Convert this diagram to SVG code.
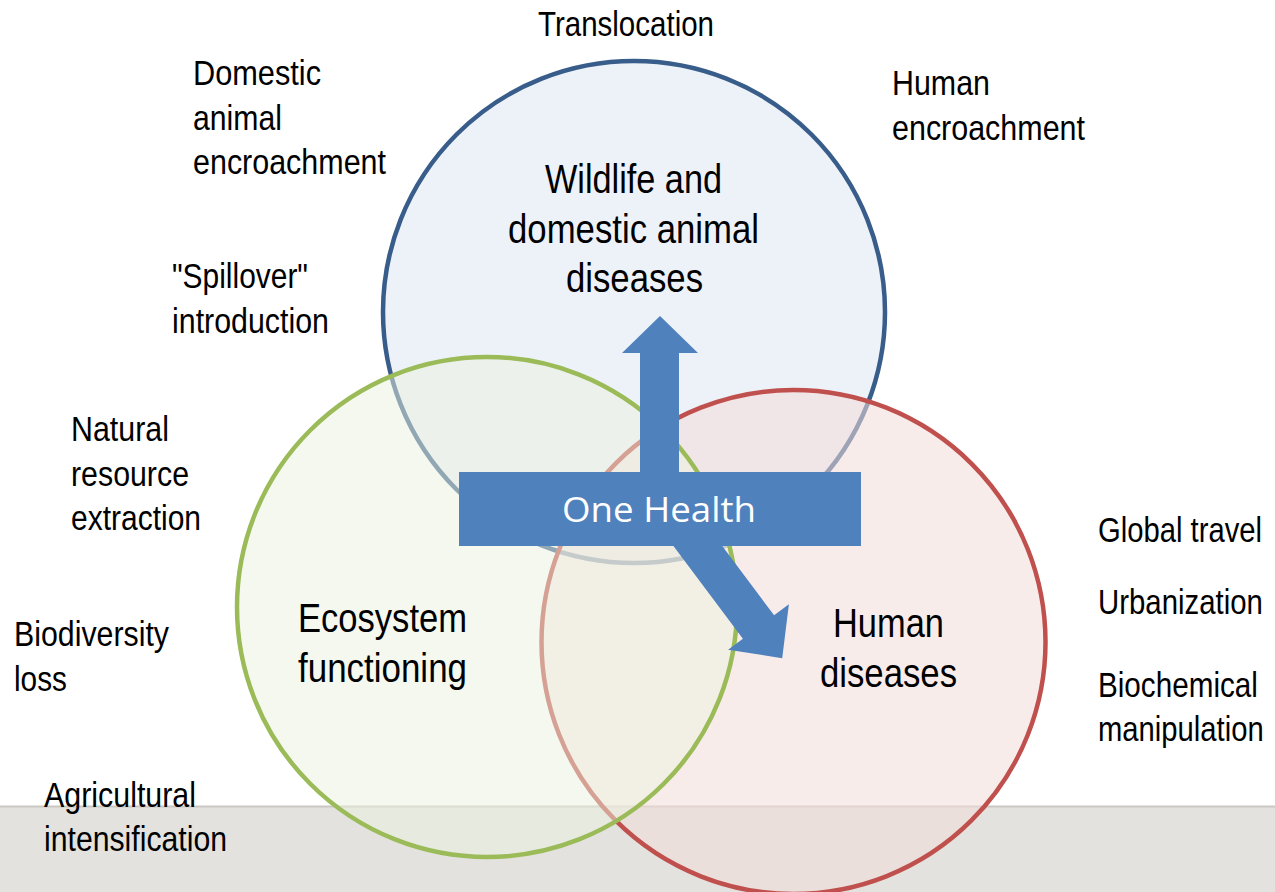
<svg xmlns="http://www.w3.org/2000/svg" width="1275" height="892" viewBox="0 0 1275 892">
<style>
  .lbl { font-family: "Liberation Sans Narrow", "Liberation Sans", Arial, sans-serif; font-size: 35px; fill: #000; }
  .node { font-family: "Liberation Sans Narrow", "Liberation Sans", Arial, sans-serif; font-size: 40px; fill: #000; text-anchor: middle; }
  .oh { font-family: "Open Sans", "Noto Sans", sans-serif; font-size: 35px; fill: #fff; text-anchor: middle; }
  .arrow { fill: #4f81bd; }
</style>
<rect x="0" y="0" width="1275" height="892" fill="#ffffff"/>
<g id="ground">
  <rect x="0" y="806" width="1275" height="86" fill="#e3e2de"/>
  <line x1="0" y1="806.5" x2="1275" y2="806.5" stroke="#cbc8c3" stroke-width="2"/>
</g>
<g id="node-wildlife">
  <circle cx="634" cy="312" r="251" fill="#dbe5f1" fill-opacity="0.5" stroke="#385d8a" stroke-width="4.5"/>
</g>
<g id="node-human">
  <circle cx="793.5" cy="642" r="252" fill="#f2dcdb" fill-opacity="0.55" stroke="#c0504d" stroke-width="4.5"/>
</g>
<g id="node-ecosystem">
  <circle cx="487" cy="607" r="250" fill="#ebf1de" fill-opacity="0.5" stroke="#9bbb59" stroke-width="4.5"/>
</g>
<g id="node-labels">
  <text class="node" x="633.5" y="193" textLength="177" lengthAdjust="spacingAndGlyphs">Wildlife and</text>
  <text class="node" x="633.5" y="243" textLength="251" lengthAdjust="spacingAndGlyphs">domestic animal</text>
  <text class="node" x="634.5" y="292" textLength="137" lengthAdjust="spacingAndGlyphs">diseases</text>
  <text class="node" x="382.5" y="632" textLength="169" lengthAdjust="spacingAndGlyphs">Ecosystem</text>
  <text class="node" x="382.5" y="682" textLength="169" lengthAdjust="spacingAndGlyphs">functioning</text>
  <text class="node" x="888.5" y="637" textLength="111" lengthAdjust="spacingAndGlyphs">Human</text>
  <text class="node" x="888.5" y="687" textLength="137" lengthAdjust="spacingAndGlyphs">diseases</text>
</g>
<g id="connectors">
  <polygon class="arrow" points="640,500 640,353 622,353 660,316 698,353 679,353 679,500"/>
  <polygon class="arrow" points="686.5,498.3 774.1,615.3 788.9,604.2 782.2,658.2 728.1,649.8 742.9,638.7 655.3,521.7"/>
</g>
<g id="node-onehealth">
  <rect x="459" y="472" width="402" height="74" fill="#4f81bd"/>
  <text class="oh" x="659" y="522" textLength="194" lengthAdjust="spacingAndGlyphs">One Health</text>
</g>
<g id="drivers">
  <text class="lbl" x="538" y="36" textLength="176" lengthAdjust="spacingAndGlyphs">Translocation</text>
  <text class="lbl" x="193" y="85" textLength="128" lengthAdjust="spacingAndGlyphs">Domestic</text>
  <text class="lbl" x="193" y="130" textLength="89" lengthAdjust="spacingAndGlyphs">animal</text>
  <text class="lbl" x="193" y="174" textLength="193" lengthAdjust="spacingAndGlyphs">encroachment</text>
  <text class="lbl" x="892" y="95" textLength="98" lengthAdjust="spacingAndGlyphs">Human</text>
  <text class="lbl" x="892" y="140" textLength="193" lengthAdjust="spacingAndGlyphs">encroachment</text>
  <text class="lbl" x="172" y="288" textLength="136" lengthAdjust="spacingAndGlyphs">"Spillover"</text>
  <text class="lbl" x="172" y="333" textLength="157" lengthAdjust="spacingAndGlyphs">introduction</text>
  <text class="lbl" x="71" y="441" textLength="98" lengthAdjust="spacingAndGlyphs">Natural</text>
  <text class="lbl" x="71" y="486" textLength="118" lengthAdjust="spacingAndGlyphs">resource</text>
  <text class="lbl" x="71" y="530" textLength="130" lengthAdjust="spacingAndGlyphs">extraction</text>
  <text class="lbl" x="14" y="646" textLength="155" lengthAdjust="spacingAndGlyphs">Biodiversity</text>
  <text class="lbl" x="14" y="691" textLength="53" lengthAdjust="spacingAndGlyphs">loss</text>
  <text class="lbl" x="44" y="807" textLength="152" lengthAdjust="spacingAndGlyphs">Agricultural</text>
  <text class="lbl" x="44" y="851" textLength="183" lengthAdjust="spacingAndGlyphs">intensification</text>
  <g transform="translate(1098,0) scale(0.82,1)">
    <text class="lbl" x="0" y="542" textLength="200" lengthAdjust="spacingAndGlyphs">Global travel</text>
    <text class="lbl" x="0" y="614" textLength="201" lengthAdjust="spacingAndGlyphs">Urbanization</text>
    <text class="lbl" x="0" y="697" textLength="195" lengthAdjust="spacingAndGlyphs">Biochemical</text>
    <text class="lbl" x="0" y="741" textLength="202" lengthAdjust="spacingAndGlyphs">manipulation</text>
  </g>
</g>
</svg>
